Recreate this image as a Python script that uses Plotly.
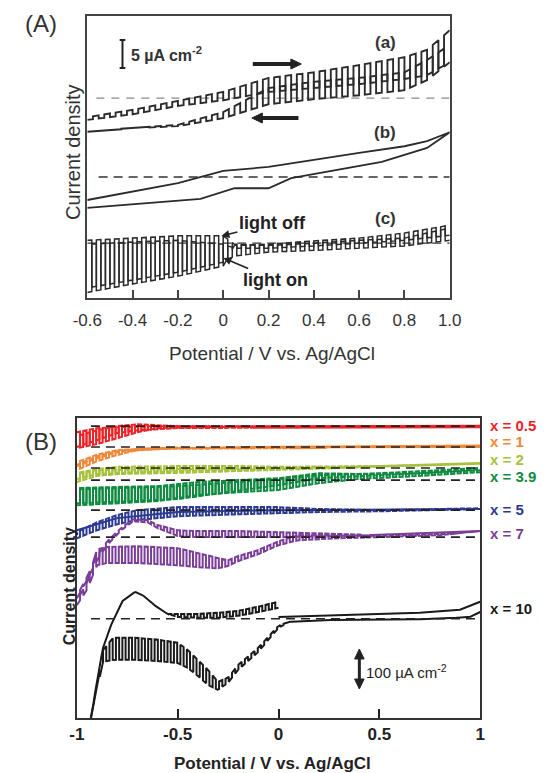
import numpy as np
import plotly.graph_objects as go

W, H = 554, 773
FONT = "Arial, Liberation Sans, sans-serif"

# ---------------- Panel A data (µA cm-2, relative to each curve's dashed zero line) ----------------
A_offsets = [35.7, 21.6, 9.8]          # vertical shift of curves (a), (b), (c)

Aa_fwd_E = [-0.6, -0.4, -0.2, 0.0, 0.2, 0.4, 0.6, 0.8, 0.9, 1.0]
Aa_fwd_dark = [-3.9, -2.9, -1.4, -0.4, 1.1, 1.8, 2.5, 3.4, 4.1, 6.4]
Aa_fwd_light = [-3.4, -2.1, -0.5, 1.1, 3.6, 4.6, 5.9, 7.3, 8.6, 12.1]
Aa_rev_E = [1.0, 0.9, 0.8, 0.6, 0.4, 0.2, 0.0, -0.2, -0.4, -0.6]
Aa_rev_dark = [6.4, 3.2, 1.4, 0.5, -0.2, -1.1, -3.6, -5.0, -5.4, -6.1]
Aa_rev_light = [9.5, 6.8, 4.6, 3.6, 2.9, 1.8, -2.5, -4.8, -5.3, -6.0]

Ab_low_E = [-0.6, -0.3, -0.1, 0.05, 0.2, 0.3, 0.5, 0.7, 0.9, 1.0]
Ab_low_I = [-5.5, -4.6, -3.9, -2.0, -2.0, -0.2, 1.3, 2.7, 5.2, 8.0]
Ab_up_E = [1.0, 0.9, 0.8, 0.6, 0.4, 0.2, 0.0, -0.2, -0.6]
Ab_up_I = [8.0, 6.4, 5.5, 4.3, 3.0, 1.8, 1.1, -1.1, -4.1]

Ac_fwd_E = [-0.6, -0.4, -0.2, 0.0, 0.05, 0.2, 0.4, 0.6, 0.8, 1.0]
Ac_fwd_dark = [0.5, 0.9, 1.3, 1.3, -0.2, -0.4, 0.0, 0.5, 0.9, 2.7]
Ac_fwd_light = [-8.0, -6.6, -5.2, -3.4, -2.3, -1.6, -1.3, -0.9, -0.5, 0.5]
Ac_rev_E = [1.0, 0.8, 0.6, 0.4, 0.2, 0.05, 0.0, -0.2, -0.4, -0.6]
Ac_rev_dark = [1.4, 0.5, 0.0, -0.5, -0.9, -0.9, -0.2, 0.5, 0.2, -0.2]
Ac_rev_light = [3.2, 1.8, 0.9, 0.4, -0.2, -0.4, -4.1, -5.9, -7.3, -8.8]

A_ticks = [-0.6, -0.4, -0.2, 0.0, 0.2, 0.4, 0.6, 0.8, 1.0]
A_ticktext = ["-0.6", "-0.4", "-0.2", "0", "0.2", "0.4", "0.6", "0.8", "1.0"]

# ---------------- Panel B data (µA cm-2, relative to each curve's dashed zero line) ----------------
B_labels = ["x = 0.5", "x = 1", "x = 2", "x = 3.9", "x = 5", "x = 7", "x = 10"]
B_colors = ["#ec2227", "#f0883a", "#a6c23c", "#0f8a41", "#2d3a92", "#7a3e98", "#1a1a1a"]
B_offsets = [768, 713, 658, 626, 547, 476, 261]

B05_f_E = [-1, -0.9, -0.8, -0.7, -0.6, -0.4, 0, 0.5, 1]
B05_f_dark = [-16, -5, -3, -1, 0, 0, 0, 0, 1]
B05_f_light = [-58, -47, -32, -16, -5, -3, 0, 0, 1]
B05_r_E = [1, 0.5, 0, -0.5, -0.7, -0.8, -0.9, -1]
B05_r_dark = [-3, -3, -4, -5, -11, -18, -37, -55]
B05_r_light = [-3, -3, -3, 0, 5, 0, -11, -26]

B1_f_E = [-1, -0.9, -0.8, -0.7, -0.5, 0, 1]
B1_f_dark = [-47, -24, -11, -5, -1, 0, 4]
B1_f_light = [-61, -37, -21, -8, -3, 0, 4]
B1_r_E = [1, 0, -0.6, -0.8, -0.9, -1]
B1_r_dark = [0, -3, -5, -13, -29, -50]
B1_r_light = [1, -1, -3, -8, -20, -40]

B2_f_E = [-1, -0.9, -0.8, -0.5, -0.2, 0, 0.5, 1]
B2_f_dark = [-37, -21, -16, -13, -8, -5, 3, 11]
B2_f_light = [-13, -3, 3, 5, 5, 3, 5, 11]
B2_r_E = [1, 0.5, 0, -0.5, -0.9, -1]
B2_r_dark = [13, 5, -3, -8, -16, -29]
B2_r_light = [13, 5, 0, -3, -5, -16]

B39_f_E = [-1, -0.8, -0.6, -0.4, -0.2, 0, 0.2, 0.4, 0.7, 1]
B39_f_dark = [-66, -61, -55, -39, -32, -26, -8, 3, 11, 21]
B39_f_light = [-21, -18, -16, -5, 0, 5, 18, 16, 18, 29]
B39_r_E = [1, 0.5, 0.2, 0, -0.5, -1]
B39_r_dark = [26, 13, 5, -13, -50, -61]
B39_r_light = [32, 18, 13, 3, -16, -24]

B5_f_E = [-1, -0.9, -0.8, -0.7, -0.5, -0.2, 0, 0.2, 0.5, 1]
B5_f_dark = [-74, -53, -37, -26, -16, -11, -8, -5, -3, 3]
B5_f_light = [-58, -32, -13, 0, 8, 8, 8, 3, 0, 5]
B5_r_E = [1, 0, -0.5, -0.8, -1]
B5_r_I = [3, 0, -5, -21, -53]

B7_L_E = [-1, -0.95, -0.9, -0.85, -0.7, -0.5, -0.4, -0.3, -0.25, -0.2, -0.1, 0, 0.1, 0.3, 0.5, 0.8, 1]
B7_L_dark = [-179, -139, -74, -68, -68, -74, -79, -82, -76, -63, -45, -21, -8, -3, 0, 5, 16]
B7_L_light = [-166, -121, -32, -26, -24, -29, -42, -55, -61, -50, -34, -11, 5, 5, 3, 8, 16]
B7_U_E = [1, 0.5, 0, -0.2, -0.4, -0.5, -0.6, -0.65, -0.72, -0.78, -0.85, -0.9, -0.95, -1]
B7_U_dark = [16, 5, 0, 0, 0, 3, 24, 39, 42, 18, -21, -61, -113, -161]
B7_U_light = [16, 5, 13, 16, 16, 18, 32, 45, 47, 24, -11, -50, -105, -155]

B10_1_E = [0, -0.1, -0.2, -0.3, -0.4, -0.5, -0.55, -0.6, -0.66, -0.71, -0.77, -0.8, -0.83, -0.87, -0.9, -0.93, -0.95]
B10_1_dark = [29, 18, 8, 3, 3, 5, 13, 29, 58, 71, 50, 18, -16, -76, -161, -266, -318]
B10_1_light = [45, 32, 21, 16, 13, 13, 13, 29, 58, 71, 50, 18, -16, -76, -161, -266, -318]
B10_2_E = [-0.95, -0.93, -0.9, -0.87, -0.82, -0.7, -0.6, -0.5, -0.45, -0.4, -0.35, -0.3, -0.25, -0.2, -0.1, -0.05, 0, 0.05, 0.2, 0.5, 0.8, 0.95, 1]
B10_2_dark = [-318, -261, -187, -113, -108, -108, -111, -116, -129, -150, -174, -187, -168, -134, -87, -55, -24, -8, -3, -3, 0, 5, 18]
B10_2_light = [-318, -261, -187, -82, -50, -50, -55, -63, -82, -108, -134, -166, -155, -121, -76, -47, -18, -8, -3, -3, 0, 5, 18]
B10_3_E = [1, 0.9, 0.7, 0.5, 0.3, 0.1, 0]
B10_3_I = [45, 24, 16, 13, 11, 8, 5]

B_ticks = [-1, -0.5, 0, 0.5, 1]
B_ticktext = ["-1", "-0.5", "0", "0.5", "1"]

# ---------------- helpers ----------------
A_PX = 5.6          # pixel per µA in panel A (scale bar 5 µA)
B_PX = 0.38         # pixel per µA in panel B (scale bar 100 µA)
A_half, C_half, B_half = 0.025, 0.02, 0.016


def chop(E, dark, light, half):
    """Chopped-light square wave alternating between dark and light envelopes."""
    E = np.asarray(E, float)
    d = np.asarray(dark, float)
    l = np.asarray(light, float)
    o = np.argsort(E)
    Es, ds, ls = E[o], d[o], l[o]
    n = max(1, int(round(abs(E[-1] - E[0]) / half)))
    edges = np.linspace(E[0], E[-1], n + 1)
    xs, ys = [], []
    for k in range(n):
        env = ls if k % 2 else ds
        seg = np.linspace(edges[k], edges[k + 1], 3)
        xs.extend(seg.tolist())
        ys.extend(np.interp(seg, Es, env).tolist())
    return xs, ys


fig = go.Figure()


def add_line(x, y, off, color, width, axis, dash=None):
    fig.add_trace(go.Scatter(
        x=list(x), y=[off + v for v in y], mode="lines",
        line=dict(color=color, width=width, dash=dash),
        xaxis="x" if axis == 1 else "x2", yaxis="y" if axis == 1 else "y2",
        hoverinfo="skip", showlegend=False))


def add_chop(E, dark, light, off, half, color, width, axis):
    xs, ys = chop(E, dark, light, half)
    add_line(xs, ys, off, color, width, axis)


# ---------------- Panel A traces ----------------
cA = "#2b2b2b"
# dashed zero lines
add_line([-0.56, 1.0], [0, 0], A_offsets[0], "#8a8a8a", 1.2, 1, dash="8px,7px")
add_line([-0.55, 1.0], [0, 0], A_offsets[1], "#333333", 1.6, 1, dash="9px,6px")
add_line([-0.6, 1.0], [0, 0], A_offsets[2], "#333333", 1.4, 1, dash="9px,6px")

add_chop(Aa_fwd_E, Aa_fwd_dark, Aa_fwd_light, A_offsets[0], A_half, cA, 1.9, 1)
add_chop(Aa_rev_E, Aa_rev_dark, Aa_rev_light, A_offsets[0], A_half, cA, 1.9, 1)
add_line(Ab_low_E + Ab_up_E, Ab_low_I + Ab_up_I, A_offsets[1], cA, 1.8, 1)
add_chop(Ac_fwd_E, Ac_fwd_dark, Ac_fwd_light, A_offsets[2], C_half, cA, 1.5, 1)
add_chop(Ac_rev_E, Ac_rev_dark, Ac_rev_light, A_offsets[2], C_half, cA, 1.5, 1)

# ---------------- Panel B traces ----------------
B_chopped = [
    [(B05_f_E, B05_f_dark, B05_f_light), (B05_r_E, B05_r_dark, B05_r_light)],
    [(B1_f_E, B1_f_dark, B1_f_light), (B1_r_E, B1_r_dark, B1_r_light)],
    [(B2_f_E, B2_f_dark, B2_f_light), (B2_r_E, B2_r_dark, B2_r_light)],
    [(B39_f_E, B39_f_dark, B39_f_light), (B39_r_E, B39_r_dark, B39_r_light)],
    [(B5_f_E, B5_f_dark, B5_f_light)],
    [(B7_L_E, B7_L_dark, B7_L_light), (B7_U_E, B7_U_dark, B7_U_light)],
    [(B10_1_E, B10_1_dark, B10_1_light), (B10_2_E, B10_2_dark, B10_2_light)],
]
B_plain = {4: [(B5_r_E, B5_r_I)], 6: [(B10_3_E, B10_3_I)]}

for i in range(7):
    for (E, d, l) in B_chopped[i]:
        add_chop(E, d, l, B_offsets[i], B_half, B_colors[i], 2.0, 2)
    for (E, I) in B_plain.get(i, []):
        add_line(E, I, B_offsets[i], B_colors[i], 2.0, 2)

for i in range(7):
    add_line([-0.93, 1.0], [0, 0], B_offsets[i], "#222222", 1.6, 2, dash="9px,6px")

# ---------------- layout ----------------
def px(x, y):
    return x / W, 1 - y / H


ax_common = dict(showgrid=False, zeroline=False, showline=True, mirror=True)

fig.update_layout(
    width=W, height=H, margin=dict(l=0, r=0, t=0, b=0),
    paper_bgcolor="white", plot_bgcolor="white", showlegend=False,
    font=dict(family=FONT, color="#333"),
    xaxis=dict(domain=[76 / W, 457 / W], range=[-0.6, 1.0], anchor="y",
               tickvals=A_ticks, ticktext=A_ticktext, ticks="inside", ticklen=8,
               tickwidth=1.5, tickcolor="#444", linecolor="#444", linewidth=1.6,
               tickfont=dict(size=17, color="#333", family=FONT),
               ticklabelstandoff=6, **ax_common),
    yaxis=dict(domain=[1 - 298 / H, 1 - 16 / H], range=[0, 282 / A_PX], anchor="x",
               showticklabels=False, ticks="", linecolor="#444", linewidth=1.6, **ax_common),
    xaxis2=dict(domain=[65 / W, 489 / W], range=[-1, 1], anchor="y2",
                tickvals=B_ticks, ticktext=B_ticktext, ticks="inside", ticklen=9,
                tickwidth=2, tickcolor="#222", linecolor="#333", linewidth=2,
                tickfont=dict(size=17, color="#222", family=FONT, weight="bold"),
                **ax_common),
    yaxis2=dict(domain=[1 - 718 / H, 1 - 418 / H], range=[0, 300 / B_PX], anchor="x2",
                showticklabels=False, ticks="", linecolor="#333", linewidth=2, **ax_common),
)

ann = []


def text(x, y, s, size, bold=False, color="#333", angle=0, xanchor="center"):
    X, Y = px(x, y)
    ann.append(dict(x=X, y=Y, xref="paper", yref="paper", text=s, showarrow=False,
                    textangle=angle, xanchor=xanchor, yanchor="middle",
                    font=dict(size=size, color=color, family=FONT,
                              weight="bold" if bold else "normal")))


# panel A texts
text(27, 24, "(A)", 24)
text(61, 152, "Current density", 20, angle=-90)
text(270, 353, "Potential / V vs. Ag/AgCl", 19)
text(120, 54, "5 µA cm<sup>-2</sup>", 16, bold=True, xanchor="left")
text(389, 42, "(a)", 17, bold=True)
text(389, 132, "(b)", 17, bold=True)
text(389, 218, "(c)", 17, bold=True)

for (hx, hy, tx, ty, s) in [(217, 236, 268, 223, "light off"), (219, 258, 271, 280, "light on")]:
    X, Y = px(hx, hy)
    ann.append(dict(x=X, y=Y, xref="paper", yref="paper", text=s, showarrow=True,
                    ax=tx - hx, ay=ty - hy, arrowhead=2, arrowsize=1, arrowwidth=1.6,
                    arrowcolor="#222", standoff=0,
                    font=dict(size=18, color="#222", family=FONT, weight="bold")))

# panel B texts
text(27, 441, "(B)", 24)
text(57, 586, "Current density", 16, bold=True, color="#222", angle=-90)
text(271, 763, "Potential / V vs. Ag/AgCl", 17, bold=True, color="#222")
B_label_y = [425, 442, 459, 476, 509, 533, 608]
for lab, col, yy in zip(B_labels, B_colors, B_label_y):
    text(497, yy, lab, 15, bold=True, color=col, xanchor="left")
text(367, 671, "100 µA cm<sup>-2</sup>", 15, color="#222", xanchor="left")

fig.update_layout(annotations=ann)

# shapes: scale bars and scan-direction arrows
shapes = []


def seg(x0, y0, x1, y1, w, color="#222"):
    X0, Y0 = px(x0, y0)
    X1, Y1 = px(x1, y1)
    shapes.append(dict(type="line", xref="paper", yref="paper", x0=X0, y0=Y0, x1=X1, y1=Y1,
                       line=dict(color=color, width=w)))


def tri(pts, color="#222"):
    p = [px(a, b) for a, b in pts]
    path = "M {},{} L {},{} L {},{} Z".format(p[0][0], p[0][1], p[1][0], p[1][1], p[2][0], p[2][1])
    shapes.append(dict(type="path", xref="paper", yref="paper", path=path,
                       fillcolor=color, line=dict(color=color, width=1)))


# panel A 5 µA bar
seg(113, 40, 113, 40 + 5 * A_PX, 2)
seg(110, 40, 116, 40, 2)
seg(110, 40 + 5 * A_PX, 116, 40 + 5 * A_PX, 2)
# scan direction arrows
seg(250, 64, 292, 64, 4)
tri([(301, 64), (290, 59), (290, 69)])
seg(258, 118, 298, 118, 4)
tri([(249, 118), (260, 113), (260, 123)])
# panel B 100 µA double arrow
seg(362, 657, 362, 681, 3)
tri([(362, 649), (357, 659), (367, 659)])
tri([(362, 689), (357, 679), (367, 679)])

fig.update_layout(shapes=shapes)
fig.write_html("out.html")
